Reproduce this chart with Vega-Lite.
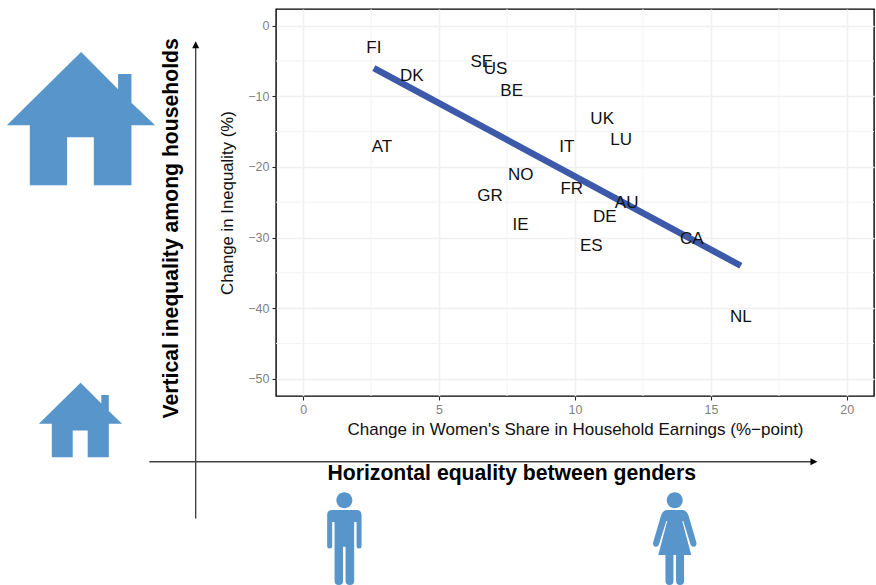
{
"$schema":"https://vega.github.io/schema/vega-lite/v6.json",
"width":598,"height":387,
"autosize":{"type":"none"},
"padding":{"left":276,"top":9,"right":2,"bottom":189},
"background":"white",
"config":{"view":{"stroke":"#000000","strokeWidth":1.4},"font":"Liberation Sans"},
"datasets":{
"countries":[
{"code":"FI","x":2.6,"y":-3.0},{"code":"DK","x":4.0,"y":-7.0},{"code":"SE","x":6.57,"y":-5.0},{"code":"US","x":7.08,"y":-6.0},{"code":"BE","x":7.67,"y":-9.1},{"code":"UK","x":11.0,"y":-13.1},{"code":"LU","x":11.7,"y":-16.0},{"code":"IT","x":9.7,"y":-17.0},{"code":"AT","x":2.9,"y":-17.0},{"code":"NO","x":8.0,"y":-21.0},{"code":"FR","x":9.88,"y":-23.0},{"code":"GR","x":6.87,"y":-24.0},{"code":"AU","x":11.9,"y":-25.0},{"code":"DE","x":11.1,"y":-27.0},{"code":"IE","x":8.0,"y":-28.1},{"code":"ES","x":10.6,"y":-31.0},{"code":"CA","x":14.3,"y":-30.1},{"code":"NL","x":16.1,"y":-41.1}],
"fit":[{"x":2.6,"y":-6.0},{"x":16.1,"y":-34.0}],
"gridV":[{"x":2.5,"y":-52.45,"y2":2.37},{"x":7.5,"y":-52.45,"y2":2.37},{"x":12.5,"y":-52.45,"y2":2.37},{"x":17.5,"y":-52.45,"y2":2.37}],
"gridH":[{"y":-45,"x":-1,"x2":21},{"y":-35,"x":-1,"x2":21},{"y":-25,"x":-1,"x2":21},{"y":-15,"x":-1,"x2":21},{"y":-5,"x":-1,"x2":21}]
},
"encoding":{
"x":{"field":"x","type":"quantitative","scale":{"domain":[-1,21],"nice":false,"zero":false},
"axis":{"values":[0,5,10,15,20],"title":"Change in Women's Share in Household Earnings (%\u2212point)","titleFontSize":17,"titleFont":"Liberation Sans","titleFontWeight":"normal","titleColor":"#111111","titlePadding":6,"labelFontSize":12.5,"labelColor":"#7f7f7f","labelPadding":3,"tickColor":"#222222","tickSize":4,"tickWidth":1.1,"domain":false,"grid":true,"gridColor":"#f0f0f0","gridWidth":1.5}},
"y":{"field":"y","type":"quantitative","scale":{"domain":[-52.45,2.37],"nice":false,"zero":false},
"axis":{"values":[-50,-40,-30,-20,-10,0],"title":"Change in Inequality (%)","titleFontSize":16.8,"titleFont":"Liberation Sans","titleFontWeight":"normal","titleColor":"#111111","titlePadding":11,"labelFontSize":12.5,"labelColor":"#7f7f7f","labelPadding":3,"tickColor":"#222222","tickSize":4,"tickWidth":1.1,"domain":false,"grid":true,"gridColor":"#f0f0f0","gridWidth":1.5}}
},
"layer":[
{"data":{"name":"gridV"},"mark":{"type":"rule","color":"#f3f3f3","strokeWidth":1},"encoding":{"y2":{"field":"y2"}}},
{"data":{"name":"gridH"},"mark":{"type":"rule","color":"#f3f3f3","strokeWidth":1},"encoding":{"x2":{"field":"x2"}}},
{"data":{"name":"fit"},"mark":{"type":"line","color":"#3c5aa9","strokeWidth":6.5,"strokeCap":"butt"}},
{"data":{"name":"countries"},"mark":{"type":"text","fontSize":17,"font":"Liberation Sans","color":"#111111","align":"center","baseline":"middle","dy":1},"encoding":{"text":{"field":"code"}}},
{"data":{"values":[{"x":-3.955,"y":-69.8,"y2":-3.16}]},"mark":{"type":"rule","color":"#444444","strokeWidth":1.4,"clip":false},"encoding":{"y2":{"field":"y2"}}},
{"data":{"values":[{"x":-5.66,"x2":18.7,"y":-61.76}]},"mark":{"type":"rule","color":"#444444","strokeWidth":1.4,"clip":false},"encoding":{"x2":{"field":"x2"}}},
{"data":{"values":[{"x":-3.955,"y":-2.69}]},"mark":{"type":"point","filled":true,"opacity":1,"color":"#000000","size":49,"shape":"M0,-1L1,1L-1,1Z"}},
{"data":{"values":[{"x":18.79,"y":-61.76}]},"mark":{"type":"point","filled":true,"opacity":1,"color":"#000000","size":49,"shape":"M-1,-1L1,0L-1,1Z"}},
{"data":{"values":[{"label":"Horizontal equality between genders","x":7.67,"y":-63.5}]},"mark":{"type":"text","fontSize":21.2,"fontWeight":"bold","font":"Liberation Sans","color":"#000000","align":"center","baseline":"middle"},"encoding":{"text":{"field":"label"}}},
{"data":{"values":[{"label":"Vertical inequality among households","x":-4.83,"y":-28.7}]},"mark":{"type":"text","fontSize":21.2,"fontWeight":"bold","font":"Liberation Sans","color":"#000000","align":"center","baseline":"middle","angle":270},"encoding":{"text":{"field":"label"}}},
{"data":{"values":[{"icon":"large house","x":-8.17,"y":-13.07}]},"mark":{"type":"point","filled":true,"opacity":1,"color":"#5795ca","size":21904,"shape":"M0,-0.892L0.5,-0.388L0.5,-0.595L0.68,-0.595L0.68,-0.207L1,0.099L0.68,0.099L0.68,0.909L0.172,0.909L0.172,0.261L-0.189,0.261L-0.189,0.909L-0.693,0.909L-0.693,0.099L-1.004,0.099Z"}},
{"data":{"values":[{"icon":"small house","x":-8.19,"y":-55.8}]},"mark":{"type":"point","filled":true,"opacity":1,"color":"#5795ca","size":6889,"shape":"M0,-0.892L0.5,-0.388L0.5,-0.595L0.68,-0.595L0.68,-0.207L1,0.099L0.68,0.099L0.68,0.909L0.172,0.909L0.172,0.261L-0.189,0.261L-0.189,0.909L-0.693,0.909L-0.693,0.099L-1.004,0.099Z"}},
{"data":{"values":[{"icon":"man","x":1.515,"y":-72.56}]},"mark":{"type":"point","filled":true,"opacity":1,"color":"#5795ca","size":10000,"shape":"M0,-0.914C0.0884,-0.914,0.16,-0.8424,0.16,-0.754C0.16,-0.6656,0.0884,-0.594,0,-0.594C-0.0884,-0.594,-0.16,-0.6656,-0.16,-0.754C-0.16,-0.8424,-0.0884,-0.914,0,-0.914ZM-0.24,-0.56L0.24,-0.56Q0.344,-0.56,0.344,-0.46L0.344,0.16Q0.344,0.21,0.294,0.21Q0.244,0.21,0.244,0.16L0.244,-0.32L0.196,-0.32L0.196,0.86Q0.196,0.94,0.11,0.94Q0.024,0.94,0.024,0.86L0.024,0.174L-0.026,0.174L-0.026,0.86Q-0.026,0.94,-0.11,0.94Q-0.196,0.94,-0.196,0.86L-0.196,-0.32L-0.244,-0.32L-0.244,0.16Q-0.244,0.21,-0.294,0.21Q-0.344,0.21,-0.344,0.16L-0.344,-0.46Q-0.344,-0.56,-0.24,-0.56Z"}},
{"data":{"values":[{"icon":"woman","x":13.67,"y":-72.56}]},"mark":{"type":"point","filled":true,"opacity":1,"color":"#5795ca","size":10000,"shape":"M0,-0.914C0.0884,-0.914,0.16,-0.8424,0.16,-0.754C0.16,-0.6656,0.0884,-0.594,0,-0.594C-0.0884,-0.594,-0.16,-0.6656,-0.16,-0.754C-0.16,-0.8424,-0.0884,-0.914,0,-0.914ZM-0.16,-0.56L0.16,-0.56Q0.24,-0.56,0.28,-0.43L0.43,0.08Q0.45,0.16,0.39,0.176Q0.336,0.186,0.316,0.13L0.17,-0.34L0.15,-0.34L0.33,0.34L0.186,0.34L0.186,0.86Q0.186,0.94,0.106,0.94Q0.026,0.94,0.026,0.86L0.026,0.34L-0.026,0.34L-0.026,0.86Q-0.026,0.94,-0.106,0.94Q-0.186,0.94,-0.186,0.86L-0.186,0.34L-0.33,0.34L-0.15,-0.34L-0.17,-0.34L-0.316,0.13Q-0.336,0.186,-0.39,0.176Q-0.45,0.16,-0.43,0.08L-0.28,-0.43Q-0.24,-0.56,-0.16,-0.56Z"}}
]
}
